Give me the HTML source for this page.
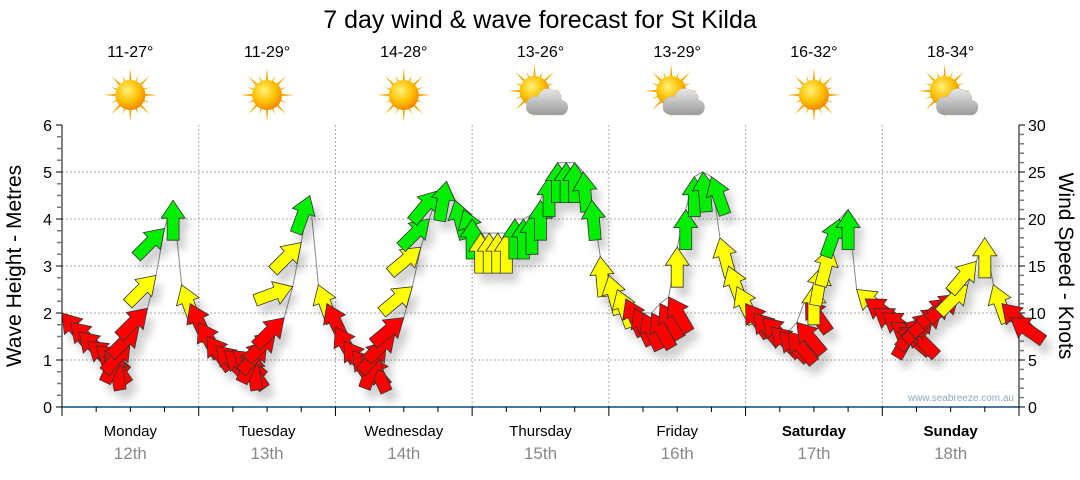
<!DOCTYPE html>
<html><head><meta charset="utf-8">
<style>
body{margin:0;background:#fff;width:1080px;height:475px;overflow:hidden;font-family:"Liberation Sans",sans-serif}
</style></head>
<body>
<svg id="chart" width="1080" height="475" viewBox="0 0 1080 475" xmlns="http://www.w3.org/2000/svg">
<defs>
<radialGradient id="sunG" cx="40%" cy="35%" r="65%"><stop offset="0" stop-color="#fff27a"/><stop offset="0.6" stop-color="#ffc000"/><stop offset="1" stop-color="#f08a00"/></radialGradient>
<linearGradient id="cloudG" x1="0" y1="0" x2="0" y2="1"><stop offset="0" stop-color="#e8e8e8"/><stop offset="1" stop-color="#9a9a9a"/></linearGradient>
<filter id="sh" x="-50%" y="-50%" width="200%" height="200%"><feDropShadow dx="6" dy="9" stdDeviation="4" flood-color="#000" flood-opacity="0.18"/></filter>
</defs>
<text x="540" y="28" text-anchor="middle" font-size="25" fill="#000">7 day wind &amp; wave forecast for St Kilda</text>
<g id="grid"></g>
<g id="axes"></g>
<g id="header"></g>
<polyline id="tipline" fill="none" stroke="#888" stroke-width="1"/>
<g id="arrows" filter="url(#sh)"></g>
<text x="1014" y="401" text-anchor="end" font-size="10" fill="#8fa8c0">www.seabreeze.com.au</text>
<text transform="translate(21,266) rotate(-90)" text-anchor="middle" font-size="21" fill="#000">Wave Height - Metres</text>
<text transform="translate(1059,266) rotate(90)" text-anchor="middle" font-size="21" fill="#000">Wind Speed - Knots</text>
</svg>
<script>
const days = ["Monday","Tuesday","Wednesday","Thursday","Friday","Saturday","Sunday"];
const dates = ["12th","13th","14th","15th","16th","17th","18th"];
const temps = ["11-27°","11-29°","14-28°","13-26°","13-29°","16-32°","18-34°"];
const cloudy = [false,false,false,true,true,false,true];
const waveTicks = [0,1,2,3,4,5,6];
const windTicks = [0,5,10,15,20,25,30];
const stepHours = 1.5;
// wind speed (knots), every 1.5 hours
const windSpeed = [
 10,9,8,7,6.5,6,6,6.5,7,8.5,10.5,14,19,22,13,11,
 9,7.5,6.5,6,6,5.5,6,6.5,7,8,9.5,12.8,17.5,22.5,13,11,
 8.5,7,6,5.5,5.5,6,7,8,9.5,12.8,17,20,23,24,22,21,
 20,18.5,18.5,18.5,18.5,20,20,20.5,22,24.5,26,26,26,25,22,16,
 14,12.5,11.5,10.5,10,10,11,11.7,17,21,24.5,25,24.5,18,15,12.8,
 11,10,9.5,8.5,8,8,9,11.5,13,15,17,20,21,12.5,11.5,10.5,
 10,9,8.5,8.5,9,9.5,10,10.5,11.5,12,13,15.5,18,13,11,9.5
];
// wind direction (degrees, arrow points toward)
const windDir = [
 -40,-45,-45,-50,-50,-35,-10,25,40,45,45,45,45,0,-20,-25,
 -30,-35,-45,-50,-50,-35,-10,25,40,45,45,70,45,20,-20,-25,
 -30,-35,-40,-40,-25,20,40,45,50,50,50,45,40,10,-15,-20,
 0,0,0,0,0,0,0,0,0,0,0,0,0,-5,-5,-5,
 -15,-20,-25,-25,-25,-30,-30,-30,0,0,0,-5,-20,-15,-20,-25,
 -35,-40,-45,-45,-45,-40,-40,-35,0,10,15,20,0,-50,-55,-55,
 -55,-55,-50,-45,30,40,45,50,50,50,45,40,0,-20,-45,-55
];
const NS="http://www.w3.org/2000/svg";
const L=62,R=1019,T=125,B=407;
const dayW=(R-L)/7;
function xH(h){return L+h/168*(R-L);}
function yKt(v){return B-v/30*(B-T);}
function yM(v){return B-v/6*(B-T);}
function mk(tag,attrs,parent,txt){const e=document.createElementNS(NS,tag);for(const k in attrs)e.setAttribute(k,attrs[k]);if(txt!==undefined)e.textContent=txt;parent.appendChild(e);return e;}
const grid=document.getElementById('grid'),axes=document.getElementById('axes'),header=document.getElementById('header');
waveTicks.forEach(t=>{if(t>0&&t<6){const g=mk('line',{x1:L,x2:R,y1:yM(t),y2:yM(t),stroke:'#aaa','stroke-dasharray':'2,2'},grid);

}});
for(let d=1;d<7;d++){const g=mk('line',{x1:L+d*dayW,x2:L+d*dayW,y1:T,y2:B,stroke:'#aaa','stroke-dasharray':'2,2'},grid);

}
mk('line',{x1:L,x2:L,y1:T,y2:B+8,stroke:'#000'},axes);
mk('line',{x1:R,x2:R,y1:T,y2:B+1,stroke:'#000'},axes);
mk('line',{x1:L,x2:R,y1:B,y2:B,stroke:'#0b4f7c','stroke-width':1.5},axes);
for(let i=0;i<=24;i++){const v=i*0.25,y=yM(v);const maj=i%4===0;
mk('line',{x1:maj?L-6:L-5,x2:L,y1:y,y2:y,stroke:maj?'#000':'#777','stroke-width':maj?1:1.5},axes);}
waveTicks.forEach(t=>{const e=mk('text',{x:L-10,y:yM(t)+6,'text-anchor':'end','font-size':16,fill:'#000'},axes,String(t));

});
for(let v=0;v<=30;v++){const y=yKt(v);const maj=v%5===0;
mk('line',{x1:R,x2:R+(maj?6:5),y1:y,y2:y,stroke:maj?'#000':'#777','stroke-width':maj?1:1.5},axes);}
windTicks.forEach(t=>{const e=mk('text',{x:R+9,y:yKt(t)+6,'font-size':16,fill:'#000'},axes,String(t));

});
for(let h=0;h<=168;h+=6){const x=xH(h);const maj=h%24===0;mk('line',{x1:x,x2:x,y1:B,y2:B+(maj?9:5),stroke:'#000'},axes);}
days.forEach((d,i)=>{const cx=L+(i+0.5)*dayW;
const e=mk('text',{x:cx,y:436,'text-anchor':'middle','font-size':15,fill:'#000','font-weight':(i>=5?'bold':'normal')},axes,d);


const f=mk('text',{x:cx,y:459,'text-anchor':'middle','font-size':17,fill:'#888'},axes,dates[i]);


const t=mk('text',{x:cx,y:57,'text-anchor':'middle','font-size':16,fill:'#000'},header,temps[i]);


const g=mk('g',{transform:`translate(${cx},${95})`},header);


const sx=cloudy[i]?-6:0,sy=cloudy[i]?-4:0;
for(let k=0;k<16;k++){const a=k*22.5,len=k%2?21:27;
mk('polygon',{points:`-2.5,0 2.5,0 0,-${len}`,fill:'#f7a800',transform:`translate(${sx},${sy}) rotate(${a})`},g);}
mk('circle',{cx:sx,cy:sy,r:15,fill:'url(#sunG)'},g);
if(cloudy[i]){mk('path',{d:'M-4,20 Q-16,20 -14,9 Q-12,0 -3,2 Q2,-10 13,-5 Q22,-3 21,5 Q29,7 27,15 Q25,21 18,20 Z',fill:'url(#cloudG)',stroke:'#bbb','stroke-width':0.5},g);}
});
const pts=windSpeed.map((v,i)=>[xH(i*stepHours),yKt(v)]);
document.getElementById('tipline').setAttribute('points',pts.map(p=>p.join(',')).join(' '));
const arrows=document.getElementById('arrows');
function col(v){return v<12.5?'#ff0000':(v<19?'#ffff00':'#00ee00');}
windSpeed.forEach((v,i)=>{
 const p=mk('polygon',{points:'0,0 12,18 6,18 6,40 -6,40 -6,18 -12,18',fill:col(v),stroke:'#333','stroke-width':0.8,
  transform:`translate(${xH(i*stepHours)},${yKt(v)}) rotate(${windDir[i]})`},arrows);
 
 
});
</script>
</body></html>
